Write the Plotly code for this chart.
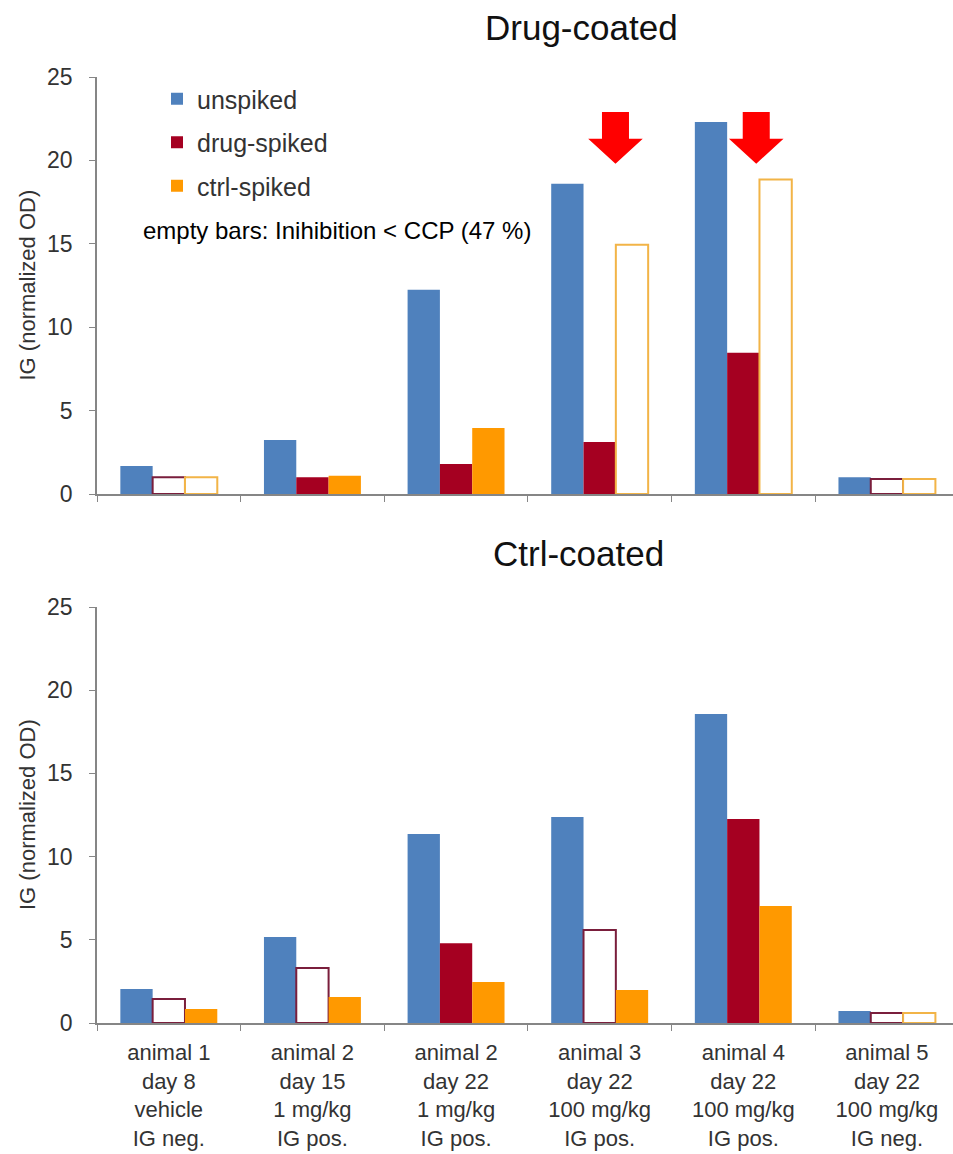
import plotly.graph_objects as go

# Sample groups (shared by both panels)
categories = [
    "animal 1<br>day 8<br>vehicle<br>IG neg.",
    "animal 2<br>day 15<br>1 mg/kg<br>IG pos.",
    "animal 2<br>day 22<br>1 mg/kg<br>IG pos.",
    "animal 3<br>day 22<br>100 mg/kg<br>IG pos.",
    "animal 4<br>day 22<br>100 mg/kg<br>IG pos.",
    "animal 5<br>day 22<br>100 mg/kg<br>IG neg.",
]
y_ticks = [0, 5, 10, 15, 20, 25]

# Drug-coated plate
drug_unspiked = [1.68, 3.24, 12.25, 18.6, 22.3, 1.0]
drug_drugspiked = [1.0, 1.0, 1.8, 3.12, 8.47, 0.9]
drug_ctrlspiked = [1.0, 1.1, 3.96, 14.95, 18.86, 0.9]
drug_drugspiked_empty = [True, False, False, False, False, True]
drug_ctrlspiked_empty = [True, False, False, True, True, True]

# Ctrl-coated plate
ctrl_unspiked = [2.04, 5.17, 11.36, 12.38, 18.57, 0.72]
ctrl_drugspiked = [1.44, 3.3, 4.8, 5.59, 12.26, 0.6]
ctrl_ctrlspiked = [0.84, 1.56, 2.46, 1.98, 7.03, 0.6]
ctrl_drugspiked_empty = [True, True, False, True, False, True]
ctrl_ctrlspiked_empty = [False, False, False, False, False, True]

# Arrows marking the ctrl-spiked bars of animals 3 and 4 (category index positions)
arrow_x = [3.11, 4.09]

BLUE = "#4F81BD"
DRUG = "#A50021"
CTRL = "#FF9900"
DRUG_EDGE = "#7A1E3C"
CTRL_EDGE = "#F2B447"
AXIS = "#868686"
TEXT = "#333333"
FONT = "Liberation Sans, Arial, sans-serif"

fig = go.Figure()


def split(values, empty, want_empty):
    return [v if e == want_empty else None for v, e in zip(values, empty)]


def add_panel(xa, ya, unspiked, drugsp, ctrlsp, drug_empty, ctrl_empty, legend):
    fig.add_trace(go.Bar(x=categories, y=unspiked, name="unspiked", offsetgroup="u",
                         legendgroup="u", showlegend=legend, xaxis=xa, yaxis=ya,
                         marker=dict(color=BLUE, line=dict(width=0))))
    fig.add_trace(go.Bar(x=categories, y=split(drugsp, drug_empty, False), name="drug-spiked",
                         offsetgroup="d", legendgroup="d", showlegend=legend, xaxis=xa, yaxis=ya,
                         marker=dict(color=DRUG, line=dict(width=0))))
    fig.add_trace(go.Bar(x=categories, y=split(drugsp, drug_empty, True), name="drug-spiked",
                         offsetgroup="d", legendgroup="d", showlegend=False, xaxis=xa, yaxis=ya,
                         marker=dict(color="white", line=dict(width=2, color=DRUG_EDGE))))
    fig.add_trace(go.Bar(x=categories, y=split(ctrlsp, ctrl_empty, False), name="ctrl-spiked",
                         offsetgroup="c", legendgroup="c", showlegend=legend, xaxis=xa, yaxis=ya,
                         marker=dict(color=CTRL, line=dict(width=0))))
    fig.add_trace(go.Bar(x=categories, y=split(ctrlsp, ctrl_empty, True), name="ctrl-spiked",
                         offsetgroup="c", legendgroup="c", showlegend=False, xaxis=xa, yaxis=ya,
                         marker=dict(color="white", line=dict(width=2, color=CTRL_EDGE))))


add_panel("x", "y", drug_unspiked, drug_drugspiked, drug_ctrlspiked,
          drug_drugspiked_empty, drug_ctrlspiked_empty, True)
add_panel("x2", "y2", ctrl_unspiked, ctrl_drugspiked, ctrl_ctrlspiked,
          ctrl_drugspiked_empty, ctrl_ctrlspiked_empty, False)

H = 1154.0
W = 953.0
x_dom = [97 / W, 1.0]
top_dom = [1 - 494 / H, 1 - 77 / H]
bot_dom = [1 - 1023 / H, 1 - 607 / H]

xaxis_common = dict(
    type="category", range=[-0.5, 5.46], tickson="boundaries", ticks="outside",
    ticklen=6, tickcolor=AXIS, showline=True, linecolor=AXIS, linewidth=1.5,
    showgrid=False, zeroline=False, automargin=False, fixedrange=True,
    ticklabelstandoff=9,
    tickfont=dict(family=FONT, size=22, color=TEXT),
)
yaxis_common = dict(
    range=[0, 25], tickvals=y_ticks, ticks="outside", ticklen=6, tickcolor=AXIS,
    showline=True, linecolor=AXIS, linewidth=1.5, showgrid=False, zeroline=False,
    automargin=False, ticklabelstandoff=12,
    tickfont=dict(family=FONT, size=23, color=TEXT),
)

fig.update_layout(
    width=953, height=1154,
    margin=dict(l=0, r=0, t=0, b=0),
    paper_bgcolor="white", plot_bgcolor="white",
    barmode="group", bargap=0.325, bargroupgap=0,
    font=dict(family=FONT, color=TEXT),
    xaxis=dict(xaxis_common, domain=x_dom, anchor="y", showticklabels=False),
    yaxis=dict(yaxis_common, domain=top_dom, anchor="x"),
    xaxis2=dict(xaxis_common, domain=x_dom, anchor="y2"),
    yaxis2=dict(yaxis_common, domain=bot_dom, anchor="x2"),
    legend=dict(x=157 / W, y=1 - 76 / H, xanchor="left", yanchor="top",
                bgcolor="rgba(0,0,0,0)", font=dict(family=FONT, size=25, color=TEXT),
                traceorder="grouped", tracegroupgap=8, itemclick=False),
    showlegend=True,
)

annotations = [
    dict(text="Drug-coated", x=581 / W, y=1 - 27 / H, xref="paper", yref="paper",
         xanchor="center", yanchor="middle",
         showarrow=False, font=dict(family=FONT, size=35, color="#111111")),
    dict(text="Ctrl-coated", x=578 / W, y=1 - 553 / H, xref="paper", yref="paper",
         xanchor="center", yanchor="middle",
         showarrow=False, font=dict(family=FONT, size=35, color="#111111")),
    dict(text="empty bars: Inihibition &lt; CCP (47 %)", x=141 / W, y=1 - 231 / H,
         xref="paper", yref="paper", xanchor="left", yanchor="middle", showarrow=False,
         font=dict(family=FONT, size=24, color="black")),
]
for yc in [(494 + 77) / 2, (1023 + 607) / 2]:
    annotations.append(dict(text="IG (normalized OD)", x=27 / W, y=1 - yc / H,
                            xref="paper", yref="paper", textangle=-90, showarrow=False,
                            xanchor="center", yanchor="middle",
                            font=dict(family=FONT, size=22, color=TEXT)))
fig.update_layout(annotations=annotations)

# Red downward arrows over the drug-coated panel
shapes = []
for cx in arrow_x:
    hw, sw = 0.19, 0.094
    top, mid, tip = 22.9, 21.3, 19.8
    path = (f"M {cx - sw},{top} L {cx + sw},{top} L {cx + sw},{mid} L {cx + hw},{mid} "
            f"L {cx},{tip} L {cx - hw},{mid} L {cx - sw},{mid} Z")
    shapes.append(dict(type="path", path=path, xref="x", yref="y",
                       fillcolor="#FF0000", line=dict(width=0)))
fig.update_layout(shapes=shapes)

fig.write_html("out.html")
